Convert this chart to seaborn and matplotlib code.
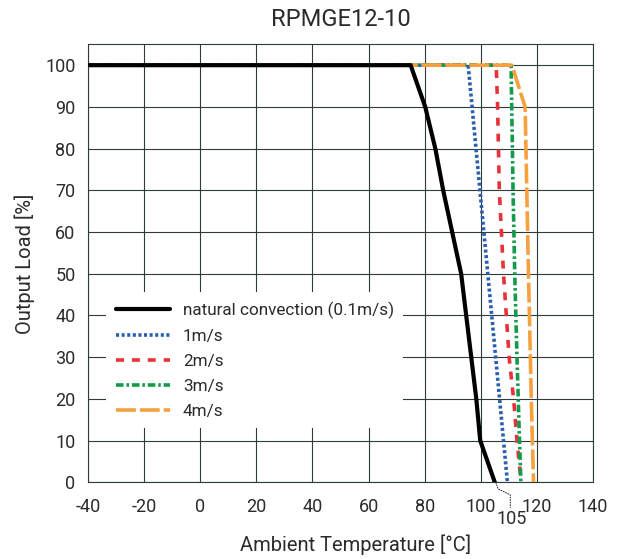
import matplotlib
matplotlib.use("Agg")
import matplotlib.pyplot as plt
import seaborn as sns

# derating curves (temperature in degC, load in %)
nat_temp = [-40, 75, 80.2, 83.8, 86.6, 89.8, 93, 94.8, 96.6, 98.4, 99.8, 105]
nat_load = [100, 100, 90, 80, 70, 60, 50, 40, 30, 20, 10, 0]

ms1_temp = [-40, 95.5, 109.5]
ms1_load = [100, 100, 0]

ms2_temp = [-40, 105.5, 106, 106.6, 108.1, 109.1, 110.1, 111.7, 112.9, 114.4]
ms2_load = [100, 100, 90, 70, 50, 40, 30, 20, 10, 0]

ms3_temp = [-40, 110.8, 111.5, 112.1, 112.9, 113.8, 114.3]
ms3_load = [100, 100, 70, 50, 30, 10, 0]

ms4_temp = [-40, 111.1, 115.8, 117, 118, 118.8]
ms4_load = [100, 100, 90, 50, 20, 0]

labels = ["natural convection (0.1m/s)", "1m/s", "2m/s", "3m/s", "4m/s"]
x_ticks = list(range(-40, 141, 20))
y_ticks = list(range(0, 101, 10))

# leader line to the "105" note under the axis
note_x = [105.3, 106.2, 110.5, 110.5]
note_y = [0, -1.6, -3.0, -6.1]

sns.set_theme(style="white")
plt.rcParams["font.family"] = ["Roboto", "DejaVu Sans"]
plt.rcParams["axes.unicode_minus"] = False
TXT = "#2b2b2b"
GRID = "#2f3b3b"

fig = plt.figure(figsize=(6.19, 5.59), dpi=100)
ax = fig.add_axes([0.1422, 0.1372, 0.8158, 0.7835])

series = [
    (ms1_temp, ms1_load, "#2a5fae", 2.6, (0, (0.85, 0.7))),
    (ms2_temp, ms2_load, "#e8323a", 2.6, (0, (2.2, 2.2))),
    (ms3_temp, ms3_load, "#139a4b", 2.6, (0, (2.1, 0.8, 0.7, 0.8))),
    (ms4_temp, ms4_load, "#f6a03f", 2.6, (0, (5.5, 1.1))),
]

handles = {}
for (tx, ld, col, lw, ls), lab in zip(series, labels[1:]):
    sns.lineplot(x=tx, y=ld, ax=ax, color=col, linewidth=lw, linestyle=ls,
                 estimator=None, sort=False, zorder=3)
    handles[lab] = ax.lines[-1]

sns.lineplot(x=nat_temp, y=nat_load, ax=ax, color="black", linewidth=3.0,
             estimator=None, sort=False, zorder=4)
handles[labels[0]] = ax.lines[-1]

ax.plot(note_x, note_y, color="black", linewidth=0.6, linestyle=(0, (2, 1)),
        clip_on=False)
ax.text(110.9, -8.8, "105", ha="center", va="center", fontsize=13, color=TXT)

ax.set_xlim(-40, 140)
ax.set_ylim(0, 105)
ax.set_xticks(x_ticks)
ax.set_yticks(y_ticks)
ax.tick_params(length=0, labelsize=13, labelcolor=TXT)
ax.tick_params(axis="x", pad=11)
ax.tick_params(axis="y", pad=9)

ax.grid(True, color=GRID, linewidth=0.8)
ax.set_axisbelow(True)
for sp in ax.spines.values():
    sp.set_color(GRID)
    sp.set_linewidth(0.8)

ax.set_title("RPMGE12-10", fontsize=17, color=TXT, pad=13)
ax.set_xlabel("Ambient Temperature [°C]", fontsize=14.5, color=TXT)
ax.set_ylabel("Output Load [%]", fontsize=14.5, color=TXT)
ax.xaxis.set_label_coords(0.529, -0.12)
ax.yaxis.set_label_coords(-0.105, 0.5)

leg = ax.legend([handles[l] for l in labels], labels, loc="upper left",
                bbox_to_anchor=(0.036, 0.434), fontsize=12.3, frameon=True,
                fancybox=False, framealpha=1, facecolor="white",
                edgecolor="none", borderpad=0.55, handlelength=3.2,
                handletextpad=0.74, labelspacing=0.58, borderaxespad=0)
for t in leg.get_texts():
    t.set_color(TXT)
leg.set_zorder(5)

fig.savefig("out.png", dpi=100)
